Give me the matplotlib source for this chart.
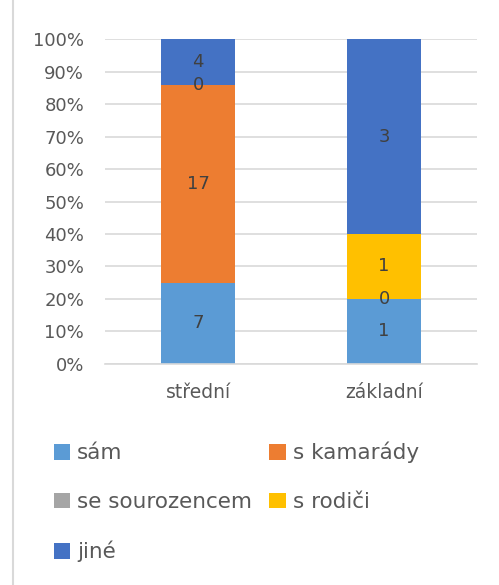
import numpy as np
import matplotlib.pyplot as plt
from matplotlib.lines import Line2D

plt.rcParams['font.family'] = ['DejaVu Sans']

categories = ['střední', 'základní']
series_names = ['sám', 's kamarády', 'se sourozencem', 's rodiči', 'jiné']
sam = [7, 1]
s_kamarady = [17, np.nan]
se_sourozencem = [0, 0]
s_rodici = [np.nan, 1]
jine = [4, 3]
colors = ['#5B9BD5', '#ED7D31', '#A5A5A5', '#FFC000', '#4472C4']
yticks = [0, 10, 20, 30, 40, 50, 60, 70, 80, 90, 100]

data = np.array([sam, s_kamarady, se_sourozencem, s_rodici, jine], dtype=float)
totals = np.nansum(data, axis=0)
pct = data / totals * 100

fig = plt.figure(figsize=(4.99, 5.85), dpi=100)
ax = fig.add_axes([0.2104, 0.3778, 0.7456, 0.5555])

x = np.arange(len(categories))
bottom = np.zeros(len(categories))
handles = []
for i, name in enumerate(series_names):
    h = np.nan_to_num(pct[i])
    b = ax.bar(x, h, 0.4, bottom=bottom, color=colors[i], label=name, zorder=2)
    handles.append(b)
    for j in range(len(categories)):
        if not np.isnan(data[i, j]):
            ax.text(x[j], bottom[j] + h[j] / 2, '%d' % data[i, j], ha='center', va='center',
                    fontsize=13, color='#404040', zorder=3)
    bottom += h

ax.set_xlim(-0.5, 1.5)
ax.set_ylim(0, 100)
ax.set_yticks(yticks)
ax.set_yticklabels(['%d%%' % t for t in yticks])
ax.set_xticks(x)
ax.set_xticklabels(categories)
ax.tick_params(length=0, labelsize=13, colors='#595959')
ax.tick_params(axis='y', pad=15)
ax.tick_params(axis='x', pad=14, labelsize=13.5)
ax.grid(axis='y', color='#D9D9D9', lw=1.2, zorder=0)
for s in ['top', 'right', 'left']:
    ax.spines[s].set_visible(False)
ax.spines['bottom'].set_color('#D9D9D9')
ax.spines['bottom'].set_linewidth(1.2)

# legend in row order
order = [0, 2, 4, 1, 3]
leg = fig.legend([handles[k] for k in order], [series_names[k] for k in order],
                 ncol=2, loc='upper left', bbox_to_anchor=(0.108, 0.245), frameon=False,
                 fontsize=15.5, handlelength=0.75, handleheight=0.75, handletextpad=0.33,
                 labelspacing=1.34, columnspacing=0.8, borderpad=0, borderaxespad=0)
for t in leg.get_texts():
    t.set_color('#595959')

# chart border at left edge
fig.add_artist(Line2D([12.5 / 499, 12.5 / 499], [0, 1], color='#D9D9D9', lw=1.5))

fig.savefig('out.png', dpi=100)
